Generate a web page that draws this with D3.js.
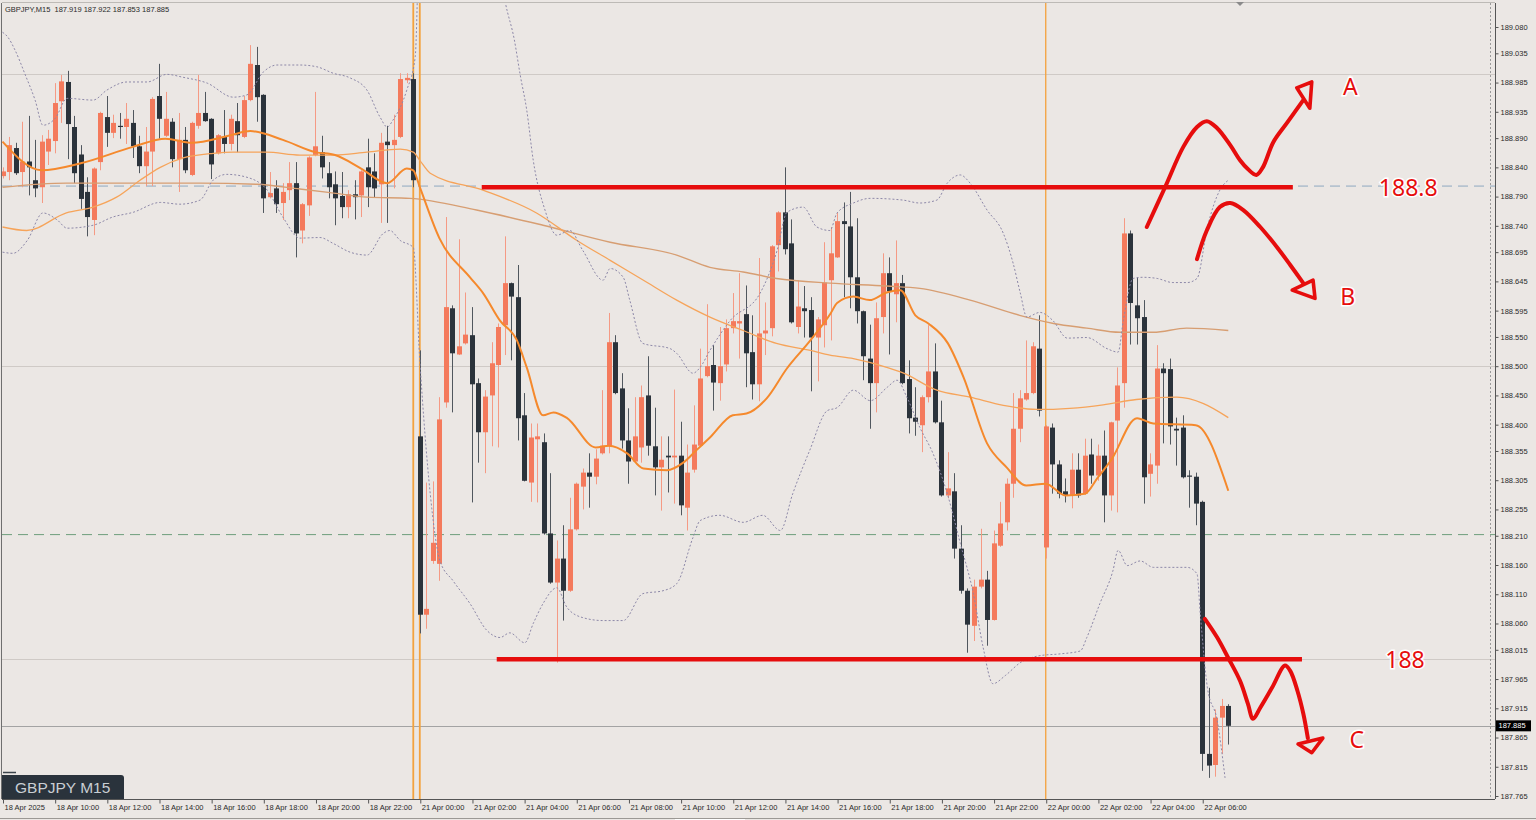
<!DOCTYPE html>
<html><head><meta charset="utf-8">
<script src="https://cdn.jsdelivr.net/npm/d3@7"></script>
<style>
body{margin:0;background:#ebe7e4;overflow:hidden}
svg{display:block}
</style>
</head><body>
<svg id="c" width="1536" height="820"></svg>
<script>
// ---------- DATA (GBPJPY M15, bar 0 = 18 Apr 2025 08:00) ----------
const opens = [188.825,188.832,188.873,188.832,188.850,188.818,188.806,188.867,188.885,188.953,
188.986,188.909,188.862,188.798,188.750,188.849,188.926,188.899,188.911,188.909,
188.916,188.876,188.842,188.867,188.962,188.894,188.918,188.854,188.887,188.827,
188.911,188.933,188.923,188.864,188.892,188.880,188.919,188.892,188.955,189.015,
188.964,188.789,188.804,188.779,188.801,188.813,188.732,188.775,188.861,188.866,
188.830,188.811,188.791,188.772,188.794,188.792,188.840,188.833,188.811,188.884,
188.878,188.892,188.989,188.991,188.380,188.075,188.167,188.162,188.438,188.599,
188.520,188.539,188.553,188.471,188.387,188.450,188.502,188.570,188.642,188.618,
188.416,188.301,188.375,188.370,188.214,188.130,188.171,188.116,188.221,188.294,
188.318,188.311,188.351,188.363,188.541,188.462,188.373,188.337,188.361,188.450,
188.363,188.327,188.347,188.344,188.347,188.258,188.323,188.364,188.483,188.502,
188.471,188.503,188.565,188.573,188.589,188.524,188.469,188.556,188.565,188.707,
188.763,188.710,188.567,188.599,188.596,188.549,188.570,188.647,188.686,188.748,
188.739,188.652,188.594,188.513,188.471,188.584,188.659,188.623,188.642,188.478,
188.412,188.399,188.447,188.491,188.404,188.279,188.286,188.188,188.116,188.056,
188.123,188.135,188.066,188.193,188.233,188.299,188.393,188.443,188.454,188.530,
188.190,188.395,188.332,188.286,188.279,188.323,188.282,188.349,188.313,188.347,
188.279,188.407,188.471,188.727,188.604,188.584,188.316,188.330,188.496,188.495,
188.393,188.395,188.313,188.311,188.268,187.837,187.818,187.899,187.919];
const highs = [188.840,188.892,188.882,188.918,188.928,188.887,188.895,188.904,188.984,188.998,
189.005,188.928,188.878,188.823,188.840,188.935,188.962,188.930,188.933,188.950,
188.938,188.894,188.909,188.960,189.017,188.969,188.924,188.933,188.909,188.918,
188.998,188.969,188.924,188.897,188.938,188.930,188.950,188.962,189.049,189.046,
188.965,188.832,188.818,188.813,188.849,188.849,188.779,188.859,188.969,188.894,
188.849,188.833,188.832,188.801,188.818,188.835,188.889,188.864,188.899,188.911,
188.930,189.001,189.001,189.001,188.527,188.301,188.303,188.447,188.755,188.604,
188.717,188.626,188.601,188.479,188.459,188.541,188.573,188.722,188.643,188.673,
188.454,188.402,188.402,188.385,188.317,188.202,188.228,188.275,188.301,188.325,
188.351,188.358,188.459,188.591,188.553,188.488,188.428,188.447,188.467,188.517,
188.429,188.380,188.380,188.460,188.405,188.366,188.433,188.530,188.606,188.536,
188.567,188.580,188.625,188.659,188.638,188.587,188.685,188.609,188.707,188.765,
188.840,188.751,188.647,188.637,188.618,188.584,188.712,188.738,188.763,188.780,
188.798,188.753,188.595,188.571,188.609,188.693,188.686,188.715,188.656,188.510,
188.464,188.450,188.570,188.539,188.441,188.353,188.317,188.228,188.120,188.135,
188.222,188.150,188.219,188.268,188.308,188.454,188.459,188.544,188.541,188.587,
188.399,188.402,188.339,188.308,188.351,188.351,188.376,188.376,188.366,188.390,
188.405,188.498,188.753,188.732,188.652,188.613,188.351,188.536,188.505,188.513,
188.412,188.416,188.322,188.318,188.270,187.950,187.913,187.931,187.922];
const lows = [188.821,188.818,188.827,188.806,188.792,188.789,188.779,188.844,188.864,188.916,
188.854,188.813,188.769,188.722,188.724,188.835,188.875,188.890,188.889,188.880,
188.856,188.830,188.808,188.808,188.889,188.892,188.840,188.798,188.830,188.825,
188.906,188.918,188.820,188.862,188.864,188.869,188.866,188.890,188.953,188.918,
188.762,188.787,188.762,188.750,188.784,188.686,188.710,188.757,188.859,188.821,
188.787,188.741,188.753,188.753,188.751,188.755,188.772,188.789,188.745,188.745,
188.804,188.890,188.984,188.806,188.043,188.051,188.162,188.133,188.429,188.421,
188.519,188.537,188.267,188.335,188.317,188.363,188.361,188.519,188.510,188.373,
188.303,188.268,188.267,188.212,188.128,187.993,188.065,188.114,188.219,188.255,
188.258,188.298,188.349,188.351,188.452,188.359,188.299,188.335,188.335,188.347,
188.279,188.253,188.284,188.265,188.245,188.219,188.318,188.363,188.481,188.424,
188.441,188.491,188.556,188.513,188.464,188.443,188.440,188.519,188.551,188.662,
188.691,188.573,188.556,188.549,188.457,188.474,188.532,188.544,188.685,188.618,
188.599,188.573,188.476,188.393,188.421,188.556,188.520,188.575,188.469,188.385,
188.381,188.353,188.438,188.402,188.277,188.274,188.171,188.111,188.010,188.030,
188.120,188.022,188.065,188.191,188.219,188.275,188.370,188.441,188.452,188.414,
188.171,188.282,188.274,188.267,188.257,188.275,188.280,188.299,188.304,188.233,
188.253,188.250,188.429,188.537,188.537,188.265,188.277,188.299,188.368,188.366,
188.330,188.308,188.258,188.228,187.808,187.796,187.798,187.837,187.853];
const closes = [188.833,188.878,188.830,188.850,188.840,188.804,188.884,188.889,188.950,188.987,
188.914,188.830,188.786,188.755,188.838,188.933,188.899,188.916,188.909,188.923,
188.876,188.842,188.867,188.957,188.923,188.923,188.854,188.887,188.835,188.916,
188.933,188.919,188.845,188.895,188.880,188.923,188.895,188.955,189.017,188.960,
188.787,188.796,188.777,188.798,188.813,188.727,188.777,188.857,188.876,188.840,
188.806,188.787,188.772,188.794,188.789,188.833,188.806,188.804,188.882,188.878,
188.887,188.991,188.993,188.818,188.075,188.085,188.198,188.409,188.601,188.522,
188.534,188.554,188.469,188.387,188.448,188.505,188.567,188.642,188.619,188.411,
188.304,188.378,188.380,188.214,188.130,188.171,188.116,188.221,188.299,188.318,
188.311,188.342,188.364,188.541,188.454,188.373,188.337,188.380,188.447,188.364,
188.327,188.340,188.344,188.347,188.262,188.318,188.366,188.479,188.500,188.472,
188.500,188.565,188.577,188.577,188.522,188.469,188.556,188.561,188.705,188.763,
188.700,188.575,188.602,188.594,188.549,188.580,188.643,188.693,188.748,188.743,
188.652,188.594,188.517,188.471,188.582,188.659,188.628,188.642,188.471,188.411,
188.405,188.447,188.491,188.404,188.279,188.291,188.188,188.116,188.058,188.123,
188.135,188.066,188.197,188.231,188.299,188.393,188.445,188.454,188.534,188.424,
188.397,188.332,188.282,188.279,188.323,188.279,188.347,188.313,188.347,188.279,
188.404,188.467,188.727,188.608,188.582,188.310,188.332,188.496,188.488,188.397,
188.390,188.310,188.311,188.265,187.837,187.817,187.899,187.919,187.885];

const xTickBars = [0,8,16,24,32,40,48,56,64,72,80,88,96,104,112,120,128,136,144,152,160,168,176,184];
const xTickLabels = ["18 Apr 2025","18 Apr 10:00","18 Apr 12:00","18 Apr 14:00","18 Apr 16:00","18 Apr 18:00",
"18 Apr 20:00","18 Apr 22:00","21 Apr 00:00","21 Apr 02:00","21 Apr 04:00","21 Apr 06:00","21 Apr 08:00",
"21 Apr 10:00","21 Apr 12:00","21 Apr 14:00","21 Apr 16:00","21 Apr 18:00","21 Apr 20:00","21 Apr 22:00",
"22 Apr 00:00","22 Apr 02:00","22 Apr 04:00","22 Apr 06:00"];
const yTickValues = [189.080,189.035,188.985,188.935,188.890,188.840,188.790,188.740,188.695,188.645,
188.595,188.550,188.500,188.450,188.400,188.355,188.305,188.255,188.210,188.160,188.110,188.060,
188.015,187.965,187.915,187.865,187.815,187.765];

// moving averages, read as [bar, price]
const maFast = [[0,188.884],[6,188.835],[12,188.847],[20,188.875],[25,188.889],[29,188.882],[35,188.895],
[38,188.902],[43,188.887],[48,188.866],[51,188.861],[55,188.838],[59,188.813],[62,188.838],[63,188.835],
[64,188.806],[67,188.719],[71.7,188.652],[73.7,188.625],[76.3,188.578],[78.9,188.544],[80.4,188.498],
[82.9,188.416],[84.5,188.421],[86.5,188.412],[91,188.361],[93,188.364],[95.8,188.351],[98.3,188.325],
[101.9,188.322],[104.4,188.335],[106.4,188.356],[108.5,188.378],[112,188.416],[114.1,188.419],
[117.2,188.445],[120.3,188.496],[123.9,188.544],[127,188.590],[128,188.608],[130.5,188.619],[133,188.613],
[135.6,188.626],[137.7,188.630],[140,188.587],[142,188.573],[145,188.539],[147.4,188.481],[151,188.368],
[154,188.327],[157,188.296],[160,188.299],[163,188.279],[166,188.282],[168,188.310],[170,188.339],
[174,188.411],[176.5,188.402],[183,188.399],[188,188.287]];
const maMid = [[0,188.738],[3.7,188.732],[9.8,188.762],[13.9,188.772],[17.5,188.789],[21.1,188.818],
[24.2,188.840],[27.7,188.856],[32.3,188.864],[35.4,188.866],[40.5,188.866],[45.6,188.861],[50.8,188.861],
[55.9,188.866],[61,188.871],[63,188.866],[64,188.852],[65.6,188.830],[73.7,188.801],[81.9,188.762],
[88.1,188.715],[93.2,188.681],[98.3,188.647],[103.4,188.613],[108.5,188.584],[113.6,188.561],
[118.7,188.539],[123.9,188.527],[126.9,188.519],[130.5,188.513],[135.6,188.498],[138.2,188.488],
[143.3,188.459],[148.4,188.447],[153.5,188.433],[158.6,188.426],[163.7,188.428],[168.8,188.434],
[173.9,188.443],[180.1,188.447],[184.2,188.436],[188,188.412]];
const maSlow = [[0,188.806],[9.8,188.813],[20.1,188.813],[30.3,188.813],[39,188.811],[45.6,188.803],
[50.8,188.796],[55.9,188.789],[62.5,188.787],[72.7,188.767],[82.9,188.741],[93.2,188.712],[103.4,188.690],
[108.5,188.669],[113.6,188.661],[118.7,188.650],[126.9,188.642],[135.6,188.637],[140.7,188.633],
[148.4,188.613],[156,188.587],[161.2,188.573],[166.3,188.565],[171.4,188.558],[176.5,188.558],
[181.6,188.565],[188,188.561]];

// Bollinger bands, read as [bar, price]
const bbUpper = [[0,189.071],[0.8,189.063],[1.9,189.041],[3.5,188.998],[5,188.955],[6.2,188.912],[8.1,188.924],
[9.9,188.958],[13.9,188.955],[16,188.972],[19.1,188.986],[22.2,188.986],[25.2,188.999],[27.7,188.994],
[31.4,188.984],[35.4,188.960],[37.5,188.964],[40,189.003],[42.1,189.015],[45.6,189.015],[48.2,189.012],
[50.7,189.001],[53.3,188.993],[55.9,188.972],[57.9,188.926],[59,188.909],[59.9,188.921],[62,188.972],
[63.3,189.029],[64,189.263],[67.1,189.469],[71.7,189.469],[74.8,189.297],[77.1,189.123],[78.5,189.058],
[79.4,188.998],[80.4,188.938],[81.4,188.852],[83.2,188.767],[85,188.724],[87,188.732],[89,188.698],
[92.1,188.647],[93.2,188.667],[95.2,188.652],[96.2,188.613],[98.2,188.539],[102.4,188.530],[103.4,188.522],
[105.9,188.488],[107,188.498],[108.5,188.527],[111.6,188.578],[116.2,188.625],[118.8,188.698],
[120.3,188.763],[122.8,188.772],[124.9,188.738],[126.9,188.732],[128,188.762],[130.5,188.779],
[133.1,188.787],[138.1,188.784],[140.7,188.779],[143.3,188.784],[144.9,188.813],[146.9,188.827],
[148.4,188.813],[151,188.767],[153.5,188.727],[155,188.676],[156.1,188.625],[157.1,188.584],
[159.1,188.592],[161.1,188.578],[163.3,188.548],[166.3,188.549],[169.4,188.530],[171.1,188.524],
[171.9,188.578],[173.4,188.650],[174.9,188.652],[177.1,188.650],[179.5,188.643],[181.7,188.643],
[183.2,188.650],[184.8,188.738],[186.7,188.801],[188,188.818]];
const bbLower = [[0,188.695],[1.6,188.693],[3.8,188.715],[6.2,188.762],[8.4,188.750],[9.9,188.736],
[13.9,188.741],[16.9,188.755],[20,188.763],[24.2,188.780],[27.2,188.777],[30.3,188.784],[32.3,188.818],
[34.4,188.828],[37.5,188.823],[40.6,188.801],[43,188.755],[45.6,188.719],[48.7,188.720],[50.7,188.710],
[53.3,188.695],[55.9,188.690],[58.4,188.727],[59.4,188.732],[61,188.715],[63,188.703],[64,188.510],
[65.6,188.282],[67.1,188.167],[69.1,188.133],[71.7,188.094],[74.3,188.048],[76.3,188.036],[77.8,188.044],
[80.1,188.027],[81.4,188.060],[82.9,188.094],[85,188.121],[86.6,188.087],[89,188.070],[92.1,188.065],
[95.2,188.065],[98.2,188.111],[101.3,188.116],[103.4,188.128],[105.9,188.207],[107,188.236],[110,188.245],
[113.6,188.233],[116.6,188.245],[119.3,188.219],[121.2,188.282],[123.8,188.356],[126.5,188.424],
[128,188.429],[130.5,188.459],[133.1,188.441],[135.7,188.464],[137.2,188.476],[138.7,188.447],
[140.7,188.395],[142.7,188.351],[144.9,188.282],[146.9,188.197],[148.9,188.111],[150.4,188.019],
[151.9,187.957],[153.8,187.971],[156.1,187.993],[159.1,188.005],[162.2,188.008],[165.3,188.013],
[166.3,188.036],[168.3,188.094],[170.3,188.150],[171.1,188.185],[172.5,188.159],[174.5,188.167],
[176.5,188.156],[181.7,188.156],[183.2,188.145],[183.7,188.077],[184.8,187.950],[186.3,187.894],
[187.5,187.796]];

// horizontal objects
const grayLevels = [189.000, 188.500, 188.000];
const bidPrice = 187.885;
const blueDashLevel = 188.808;
const greenDashLevel = 188.212;
const orangeVBars = [63, 64, 160];

// hand-drawn annotations ([bar, price])
const redLevels = [{from:73.5, to:197.9, price:188.806, label:"188.8", labelBar:215.6},
                   {from:75.8, to:199.3, price:187.999, label:"188", labelBar:215.1}];
const arrowA = [[175.5,188.738],[178.3,188.806],[181.1,188.875],[183.2,188.909],[184.7,188.919],[186.3,188.907],
[188.3,188.878],[189.8,188.852],[191.0,188.837],[192.3,188.827],[193.3,188.840],[194.9,188.883],[197.0,188.916],[199.5,188.955]];
const headA = [[198.5,188.976],[200.8,188.986],[200.5,188.941]];
const arrowB = [[183.2,188.683],[184.7,188.732],[186.7,188.772],[188.3,188.779],[190.3,188.767],[192.9,188.738],
[195.5,188.703],[197.5,188.673],[199.5,188.642]];
const headB = [[197.8,188.630],[201.0,188.647],[201.3,188.616]];
const arrowC = [[184.4,188.068],[186.3,188.036],[188.0,188.001],[189.8,187.962],[191.0,187.923],[191.8,187.897],
[192.9,187.916],[194.7,187.950],[196.7,187.988],[197.5,187.979],[198.6,187.945],[199.5,187.906],[200.2,187.864]];
const headC = [[198.7,187.854],[202.5,187.864],[200.8,187.839]];
const scenarioLabels = [{t:"A",bar:206.7,price:188.979},{t:"B",bar:206.3,price:188.620},{t:"C",bar:207.7,price:187.863}];

const titleText = "GBPJPY,M15  187.919 187.922 187.853 187.885";
const symbolLabel = "GBPJPY M15";

// ---------- DRAW ----------
const svg = d3.select("#c");
const P = {l:2, t:3, r:1495, b:799};
const x = d3.scaleLinear().domain([0,188]).range([2.5,1228.3]);
const y = d3.scaleLinear().domain([187.765,189.080]).range([796,27]);

svg.append("rect").attr("width",1536).attr("height",820).attr("fill","#ebe7e4");

svg.append("defs").append("clipPath").attr("id","plotclip")
  .append("rect").attr("x",P.l).attr("y",P.t).attr("width",P.r-P.l).attr("height",P.b-P.t);
const g = svg.append("g").attr("clip-path","url(#plotclip)");

// horizontal gray levels
g.selectAll(".lvl").data(grayLevels).join("line")
  .attr("x1",P.l).attr("x2",P.r).attr("y1",d=>Math.round(y(d))+0.5).attr("y2",d=>Math.round(y(d))+0.5)
  .attr("stroke","#cfcac6").attr("stroke-width",1.2);
g.append("line").attr("x1",P.l).attr("x2",P.r).attr("y1",Math.round(y(bidPrice))+0.5).attr("y2",Math.round(y(bidPrice))+0.5)
  .attr("stroke","#a3a3a3").attr("stroke-width",1);
g.append("line").attr("x1",P.l).attr("x2",P.r).attr("y1",y(blueDashLevel)).attr("y2",y(blueDashLevel))
  .attr("stroke","#8ea8c0").attr("stroke-width",1).attr("stroke-dasharray","10,6");
g.append("line").attr("x1",P.l).attr("x2",P.r).attr("y1",y(greenDashLevel)).attr("y2",y(greenDashLevel))
  .attr("stroke","#6f9e7c").attr("stroke-width",1).attr("stroke-dasharray","10,6");
// dotted vertical near right edge
g.append("line").attr("x1",1490.5).attr("x2",1490.5).attr("y1",P.t).attr("y2",P.b)
  .attr("stroke","#9a9a9a").attr("stroke-width",1).attr("stroke-dasharray","2,2");

// orange vertical lines
g.selectAll(".vl").data(orangeVBars).join("line")
  .attr("x1",d=>x(d)).attr("x2",d=>x(d)).attr("y1",P.t).attr("y2",P.b)
  .attr("stroke","#f3a23e").attr("stroke-width",(d,i)=>i<2?1.8:1.3);

// candles
const bars = d3.range(opens.length);
const cg = g.append("g");
bars.forEach(i=>{
  const o=opens[i],c=closes[i],h=highs[i],l=lows[i];
  const up = c>o;
  const cx = Math.round(x(i))+0.5;
  cg.append("line").attr("x1",cx).attr("x2",cx).attr("y1",y(h)).attr("y2",y(l))
    .attr("stroke",up?"#f59a84":"#50575e").attr("stroke-width",1);
  const top=y(Math.max(o,c)), bot=y(Math.min(o,c));
  cg.append("rect").attr("x",cx-2.5).attr("width",5)
    .attr("y",top).attr("height",Math.max(1.2,bot-top))
    .attr("fill",up?"#f47a5c":"#2b333b");
});

// indicators
const line = d3.line().x(d=>x(d[0])).y(d=>y(d[1])).curve(d3.curveMonotoneX);
g.append("path").attr("d",line(maSlow)).attr("fill","none").attr("stroke","#d79e72").attr("stroke-width",1.4);
g.append("path").attr("d",line(maMid)).attr("fill","none").attr("stroke","#f6a45a").attr("stroke-width",1.3);
g.append("path").attr("d",line(maFast)).attr("fill","none").attr("stroke","#f5892c").attr("stroke-width",2);
[bbUpper,bbLower].forEach(b=>{
  g.append("path").attr("d",line(b)).attr("fill","none").attr("stroke","#8d88a8")
    .attr("stroke-width",1).attr("stroke-dasharray","2,2");
});

// red annotations
const red = "#e60d0d";
redLevels.forEach(r=>{
  g.append("line").attr("x1",x(r.from)).attr("x2",x(r.to)).attr("y1",y(r.price)).attr("y2",y(r.price))
    .attr("stroke",red).attr("stroke-width",4.5);
});
const hand = d3.line().x(d=>x(d[0])).y(d=>y(d[1])).curve(d3.curveCatmullRom.alpha(0.5));
[arrowA,arrowB,arrowC].forEach(a=>{
  g.append("path").attr("d",hand(a)).attr("fill","none").attr("stroke",red).attr("stroke-width",4)
    .attr("stroke-linecap","round").attr("stroke-linejoin","round");
});
const tri = d3.line().x(d=>x(d[0])).y(d=>y(d[1])).curve(d3.curveLinearClosed);
[headA,headB,headC].forEach(t=>{
  g.append("path").attr("d",tri(t)).attr("fill","none").attr("stroke",red).attr("stroke-width",3.6)
    .attr("stroke-linejoin","round");
});
const txtStyle = s=>s.attr("font-family","'Noto Sans','Open Sans',sans-serif").attr("fill",red)
  .attr("stroke","#ffffff").attr("stroke-width",3).attr("paint-order","stroke")
  .attr("dominant-baseline","central").attr("text-anchor","middle");
redLevels.forEach(r=>{
  g.append("text").attr("x",x(r.labelBar)).attr("y",y(r.price)).attr("font-size",23).text(r.label).call(txtStyle);
});
scenarioLabels.forEach(s=>{
  g.append("text").attr("x",x(s.bar)).attr("y",y(s.price)).attr("font-size",23).text(s.t).call(txtStyle);
});

// frame
svg.append("line").attr("x1",P.l-0.5).attr("x2",P.l-0.5).attr("y1",P.t).attr("y2",P.b).attr("stroke","#6f6f6f");
svg.append("line").attr("x1",P.l).attr("x2",P.r).attr("y1",P.t-0.5).attr("y2",P.t-0.5).attr("stroke","#bdbab6");
svg.append("line").attr("x1",0).attr("x2",1536).attr("y1",818.5).attr("y2",818.5).attr("stroke","#9b9894");
svg.append("rect").attr("x",675).attr("y",819).attr("width",70).attr("height",1).attr("fill","#ffffff");
// top shift marker
svg.append("path").attr("d","M1236,2L1244,2L1240,6Z").attr("fill","#8a8a8a");

// axes
const yAxis = d3.axisRight(y).tickValues(yTickValues).tickSize(3).tickPadding(2).tickFormat(d3.format(".3f"));
const ya = svg.append("g").attr("transform",`translate(${P.r+0.5},0)`).call(yAxis);
ya.select(".domain").attr("stroke","#555").attr("d",`M0,${P.t}V${P.b}`);
ya.selectAll(".tick line").attr("stroke","#555");
ya.selectAll("text").attr("font-family","'Liberation Sans',Arial,sans-serif").attr("font-size",7.5).attr("fill","#2a2a2a");

const xAxis = d3.axisBottom(x).tickValues(xTickBars).tickSize(4).tickPadding(1.5).tickFormat((d,i)=>xTickLabels[i]);
const xa = svg.append("g").attr("transform",`translate(0,${P.b+0.5})`).call(xAxis);
xa.select(".domain").attr("stroke","#555").attr("d",`M${P.l},0H${P.r}`);
xa.selectAll(".tick line").attr("stroke","#555").attr("transform","translate(0.5,0)");
xa.selectAll("text").attr("text-anchor","start").attr("x",1.5)
  .attr("font-family","'Liberation Sans',Arial,sans-serif").attr("font-size",7.5).attr("fill","#2a2a2a");

// current price box
const by = y(bidPrice);
svg.append("rect").attr("x",1496).attr("y",by-5.5).attr("width",35).attr("height",11).attr("fill","#000");
svg.append("text").attr("x",1498.5).attr("y",by).attr("dominant-baseline","central")
  .attr("font-family","'Liberation Sans',Arial,sans-serif").attr("font-size",7.5).attr("fill","#fff").text(d3.format(".3f")(bidPrice));

// title
svg.append("text").attr("x",5).attr("y",12).attr("xml:space","preserve").style("white-space","pre")
  .attr("font-family","'Liberation Sans',Arial,sans-serif").attr("font-size",7.5).attr("fill","#2a2a2a").text(titleText);

// symbol label box
svg.append("line").attr("x1",3).attr("x2",16).attr("y1",772.5).attr("y2",772.5).attr("stroke","#3a434b").attr("stroke-width",1.5);
svg.append("path").attr("d","M2,775H121Q124,775 124,778V799H2Z").attr("fill","#2a333c");
svg.append("text").attr("x",15).attr("y",787.5).attr("dominant-baseline","central")
  .attr("font-family","'Liberation Sans',Arial,sans-serif").attr("font-size",15.5).attr("fill","#c9ced3").text(symbolLabel);
</script>
</body></html>
